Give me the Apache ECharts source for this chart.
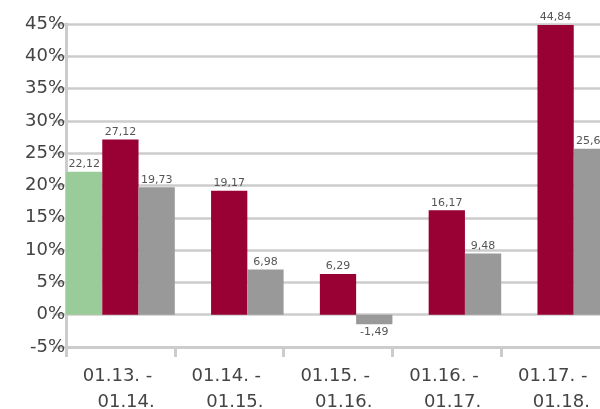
<!DOCTYPE html>
<html><head><meta charset="utf-8">
<script src="https://cdn.jsdelivr.net/npm/echarts@6/dist/echarts.min.js"></script>
<style>html,body{margin:0;padding:0;background:#fff}#c{width:600px;height:409px}</style>
</head><body><div id="c"></div>
<script>
var categories = ["01.13. - \n  01.14.", "01.14. - \n  01.15.", "01.15. - \n  01.16.", "01.16. - \n  01.17.", "01.17. - \n  01.18."];
var greenValues = [22.12, null, null, null, null];
var redValues = [27.12, 19.17, 6.29, 16.17, 44.84];
var grayValues = [19.73, 6.98, -1.49, 9.48, 25.67];
var yTicks = [-5, 0, 5, 10, 15, 20, 25, 30, 35, 40, 45];

function toData(arr) {
  return arr.map(function (v) {
    if (v === null) return null;
    return { value: v, label: { position: v < 0 ? 'bottom' : 'top' } };
  });
}
var labelCfg = {
  show: true, distance: 2, fontSize: 11, color: '#555', fontFamily: 'DejaVu Sans',
  formatter: function (p) { return String(p.value).replace('.', ','); }
};
var chart = echarts.init(document.getElementById('c'), null, { renderer: 'canvas' });
chart.setOption({
  animation: false,
  grid: { left: 66, width: 544, top: 24, bottom: 62, containLabel: false, outerBoundsMode: 'none' },
  xAxis: {
    type: 'category', data: categories,
    axisLine: { onZero: false, lineStyle: { color: '#cccccc', width: 3 } },
    axisTick: { show: true, length: 10, lineStyle: { color: '#cccccc', width: 3 } },
    axisLabel: { color: '#444', fontSize: 18, fontFamily: 'DejaVu Sans', margin: 16, lineHeight: 26, interval: 0 },
    splitLine: { show: false }
  },
  yAxis: {
    type: 'value', min: yTicks[0], max: yTicks[yTicks.length - 1], interval: 5,
    axisLine: { show: true, lineStyle: { color: '#cccccc', width: 3 } },
    axisTick: { show: true, length: 13, lineStyle: { color: '#cccccc', width: 2.5 } },
    axisLabel: { color: '#444', fontSize: 18, fontFamily: 'DejaVu Sans', margin: 1, formatter: '{value}%' },
    splitLine: { show: true, lineStyle: { color: '#cccccc', width: 2.5 } }
  },
  series: [
    { type: 'bar', data: toData(greenValues), itemStyle: { color: '#99cc99' }, barGap: '0%', barCategoryGap: '0%', label: labelCfg },
    { type: 'bar', data: toData(redValues), itemStyle: { color: '#990033' }, barGap: '0%', barCategoryGap: '0%', label: labelCfg },
    { type: 'bar', data: toData(grayValues), itemStyle: { color: '#999999' }, barGap: '0%', barCategoryGap: '0%', label: labelCfg }
  ]
});
</script></body></html>
